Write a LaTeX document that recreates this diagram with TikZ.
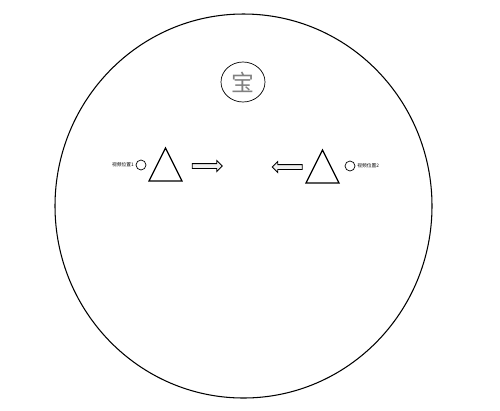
\documentclass[tikz,border=0pt]{standalone}
\usepackage{fontspec}
\newfontfamily\cjk{Noto Sans CJK SC}
\usetikzlibrary{shapes.arrows}

\tikzset{
  spot/.style={draw, circle, minimum size=0.2cm, inner sep=0pt},
  tip/.style={font=\cjk\fontsize{2.7}{3}\selectfont, inner sep=0pt},
  tri/.style={draw, line width=0.7pt},
  hollow/.style={draw, fill=black!6, single arrow, minimum height=0.6cm,
    single arrow head extend=0.06cm, inner xsep=0pt, inner ysep=0.04cm, line width=0.5pt}
}

\begin{document}
\begin{tikzpicture}[x=0.02cm,y=-0.02cm]
  \useasboundingbox (0,0) rectangle (500,410);

  \coordinate (o) at (243.5,206) {};
  \coordinate (t) at (243,82) {};

  % outer boundary and the target
  \draw[line width=0.6pt] (o) ellipse [x radius=188.5, y radius=192];
  \draw (t) ellipse [x radius=22, y radius=20];
  \node[font=\cjk\fontsize{13}{13}\selectfont, text=black!50] (bao) at (t) {宝};

  % left side
  \node[tip, anchor=east] (pos1) at (134,165) {视频位置1};
  \node[spot] (c1) at (141,165) {};
  \coordinate (a1) at (165.5,148) {};
  \coordinate (b1) at (149,181) {};
  \coordinate (d1) at (182,181) {};
  \draw[tri] (a1) -- (b1) -- (d1) -- cycle;
  \node[hollow] (arr1) at (206,166) {};

  % right side
  \node[tip, anchor=west] (pos2) at (357,166) {视频位置2};
  \node[spot] (c2) at (350,166) {};
  \coordinate (a2) at (322.5,150) {};
  \coordinate (b2) at (306,183) {};
  \coordinate (d2) at (339,183) {};
  \draw[tri] (a2) -- (b2) -- (d2) -- cycle;
  \node[hollow, shape border rotate=180] (arr2) at (288.5,167) {};
\end{tikzpicture}
\end{document}
